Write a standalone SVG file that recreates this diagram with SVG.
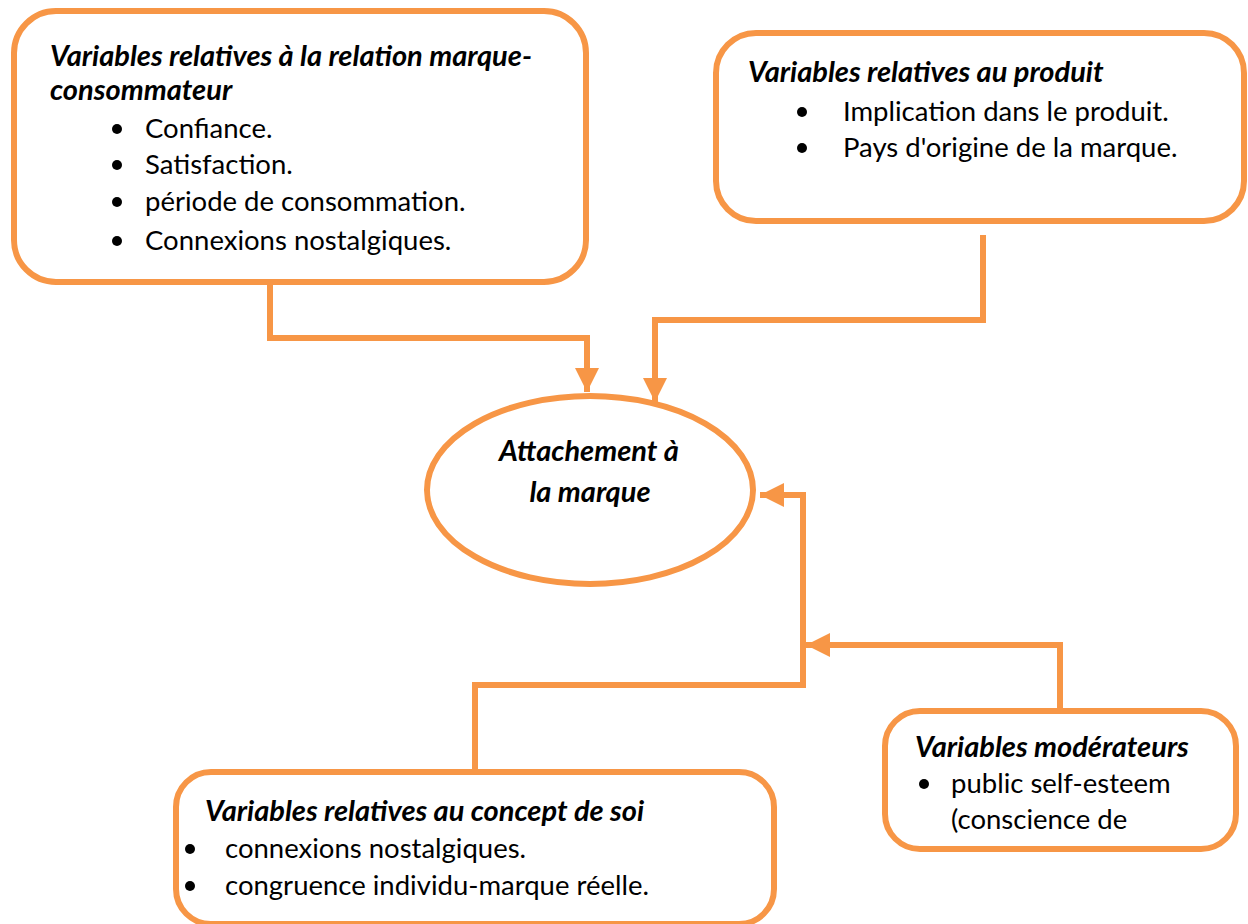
<svg xmlns="http://www.w3.org/2000/svg" width="1248" height="924" viewBox="0 0 1248 924">
<style>
.box{fill:#fff;stroke:#F79646;stroke-width:6}
.ln{fill:none;stroke:#F79646;stroke-width:6}
text{font-family:Lato,"Open Sans",sans-serif;font-size:27.5px;fill:#000}
.t{font-weight:bold;font-style:italic;font-size:29px}
.b{fill:#000}
</style>
<defs>
<marker id="ah" viewBox="0 0 10 10" refX="10" refY="5" markerWidth="4" markerHeight="4" markerUnits="strokeWidth" orient="auto">
<path d="M0,0 L10,5 L0,10 Z" fill="#F79646"/>
</marker>
</defs>
<rect width="1248" height="924" fill="#fff"/>
<g id="connectors">
<path class="ln" d="M270,285 V338 H587 V392" marker-end="url(#ah)"/>
<path class="ln" d="M983,235 V320 H655 V402" marker-end="url(#ah)"/>
<path class="ln" d="M475,770 V685 H803 V495 H760" marker-end="url(#ah)"/>
<path class="ln" d="M1060,710 V645 H806" marker-end="url(#ah)"/>
</g>
<g id="box1">
<rect class="box" x="14" y="11" width="572" height="271" rx="42"/>
<text class="t" x="50" y="66">Variables relatives à la relation marque-</text>
<text class="t" x="50" y="100">consommateur</text>
<circle class="b" cx="117" cy="129" r="5"/><text x="145" y="138">Confiance.</text>
<circle class="b" cx="117" cy="165" r="5"/><text x="145" y="174">Satisfaction.</text>
<circle class="b" cx="117" cy="202" r="5"/><text x="145" y="211">période de consommation.</text>
<circle class="b" cx="117" cy="241" r="5"/><text x="145" y="250">Connexions nostalgiques.</text>
</g>
<g id="box2">
<rect class="box" x="716" y="33" width="528" height="188" rx="40"/>
<text class="t" x="748" y="82">Variables relatives au produit</text>
<circle class="b" cx="802" cy="112" r="5"/><text x="843" y="121">Implication dans le produit.</text>
<circle class="b" cx="802" cy="148" r="5"/><text x="843" y="157">Pays d'origine de la marque.</text>
</g>
<g id="ellipse">
<ellipse class="box" cx="590" cy="490" rx="163" ry="94"/>
<text class="t" x="589" y="461" text-anchor="middle">Attachement à</text>
<text class="t" x="590" y="502" text-anchor="middle">la marque</text>
</g>
<g id="box3">
<rect class="box" x="176" y="772" width="598" height="152" rx="35"/>
<text class="t" x="205" y="821">Variables relatives au concept de soi</text>
<circle class="b" cx="190" cy="849" r="5"/><text x="225" y="858">connexions nostalgiques.</text>
<circle class="b" cx="190" cy="886" r="5"/><text x="225" y="895">congruence individu-marque réelle.</text>
</g>
<g id="box4">
<rect class="box" x="885" y="711" width="351" height="138" rx="35"/>
<text class="t" x="915" y="757">Variables modérateurs</text>
<circle class="b" cx="924" cy="784" r="5"/><text x="951" y="793">public self-esteem</text>
<text x="951" y="829">(conscience de</text>
</g>
</svg>
